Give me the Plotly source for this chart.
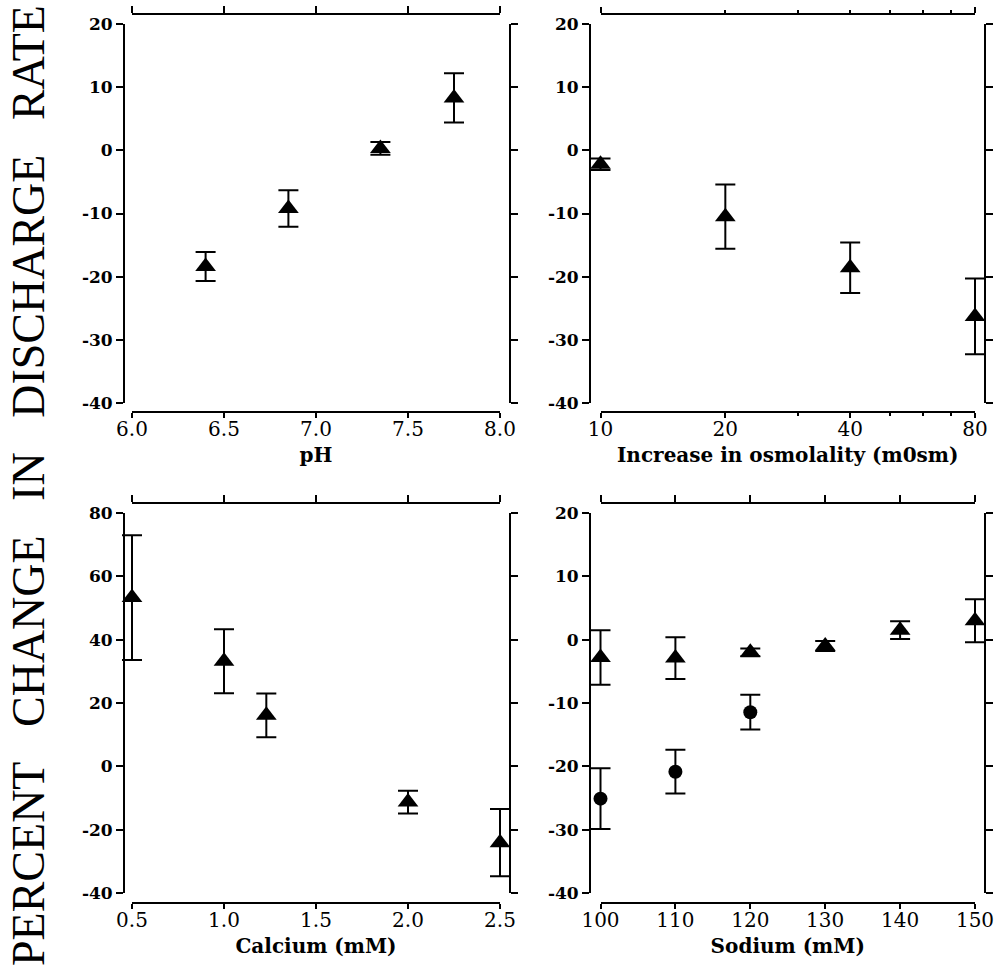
import plotly.graph_objects as go
import math

# ---------------- data ----------------
# Panel A: pH
ph_x = [6.4, 6.85, 7.35, 7.75]
ph_y = [-18.4, -9.2, 0.3, 8.3]
ph_err = [2.3, 2.9, 1.0, 3.9]

# Panel B: increase in osmolality (mOsm), log axis
osm_x = [10, 20, 40, 80]
osm_y = [-2.2, -10.5, -18.6, -26.3]
osm_err = [0.9, 5.1, 4.0, 6.0]

# Panel C: calcium (mM)
ca_x = [0.5, 1.0, 1.23, 2.0, 2.5]
ca_y = [53.3, 33.2, 16.1, -11.3, -24.1]
ca_err = [19.7, 10.1, 6.9, 3.6, 10.6]

# Panel D: sodium (mM)
na_tri_x = [100, 110, 120, 130, 140, 150]
na_tri_y = [-2.8, -2.9, -2.0, -1.0, 1.5, 3.0]
na_tri_err = [4.3, 3.3, 0.6, 0.8, 1.4, 3.4]
na_circ_x = [100, 110, 120]
na_circ_y = [-25.1, -20.85, -11.45]
na_circ_err = [4.8, 3.45, 2.75]

# tick labels
ph_ticks = [6.0, 6.5, 7.0, 7.5, 8.0]
ph_ticktext = ["6.0", "6.5", "7.0", "7.5", "8.0"]
osm_major = [10, 20, 40, 80]
osm_major_text = ["10", "20", "40", "80"]
osm_minor = [30, 50, 60, 70]
osm_top_minor = [20, 30, 40, 50, 60, 70]
ca_ticks = [0.5, 1.0, 1.5, 2.0, 2.5]
ca_ticktext = ["0.5", "1.0", "1.5", "2.0", "2.5"]
na_ticks = [100, 110, 120, 130, 140, 150]
na_ticktext = ["100", "110", "120", "130", "140", "150"]
y_small_ticks = [20, 10, 0, -10, -20, -30, -40]
y_small_text = ["20", "10", "0", "-10", "-20", "-30", "-40"]
y_big_ticks = [80, 60, 40, 20, 0, -20, -40]
y_big_text = ["80", "60", "40", "20", "0", "-20", "-40"]

x_titles = ["pH", "Increase in osmolality (m0sm)", "Calcium (mM)", "Sodium (mM)"]
y_title = "PERCENT CHANGE IN DISCHARGE RATE"

# ---------------- layout geometry (page pixels) ----------------
W, H = 995, 968


def fx(px):
    return px / W


def fy(py):
    return 1 - py / H


# column: (domain start, domain end, left spine, right spine)
cols = [(132, 500, 124, 509.5), (600.5, 975, 590, 984.5)]
# row: (domain top, domain bottom, top spine, bottom spine)
rows = [(24, 403, 14, 412), (513, 893, 502.5, 902.5)]
PAD = 16  # extra (hidden) room so error bars/markers are not clipped

FONT_TICK_X = dict(family="DejaVu Serif", size=20, color="black")
FONT_TICK_Y = dict(family="DejaVu Serif", size=17, color="black", weight="bold")
FONT_TITLE = dict(family="DejaVu Serif", size=20, color="black", weight="bold")

axis_common = dict(
    showline=True, linewidth=2, linecolor="black",
    ticks="outside", ticklen=7, tickwidth=2, tickcolor="black",
    showgrid=False, zeroline=False, fixedrange=True, automargin=False,
)

panels = [
    dict(xtype="linear", xrange=[6.0, 8.0], xt=ph_ticks, xtt=ph_ticktext,
         yrange=[-40, 20], yt=y_small_ticks, ytt=y_small_text),
    dict(xtype="log", xrange=[1.0, math.log10(80)], xt=osm_major, xtt=osm_major_text,
         yrange=[-40, 20], yt=y_small_ticks, ytt=y_small_text),
    dict(xtype="linear", xrange=[0.5, 2.5], xt=ca_ticks, xtt=ca_ticktext,
         yrange=[-40, 80], yt=y_big_ticks, ytt=y_big_text),
    dict(xtype="linear", xrange=[100, 150], xt=na_ticks, xtt=na_ticktext,
         yrange=[-40, 20], yt=y_small_ticks, ytt=y_small_text),
]

fig = go.Figure()
layout = {}


def ax_id(n, letter):
    return letter if n == 1 else f"{letter}{n}"


def ax_key(n, letter):
    return f"{letter}axis" if n == 1 else f"{letter}axis{n}"


for i, p in enumerate(panels):
    r, c = divmod(i, 2)
    x0, x1, lsp, rsp = cols[c]
    y0, y1, tsp, bsp = rows[r]
    n, m, d = i + 1, i + 5, i + 9

    # visible bottom axis
    xa = dict(axis_common, type=p["xtype"], domain=[fx(x0), fx(x1)], anchor="free",
              position=fy(bsp), range=p["xrange"], tickmode="array", ticklen=5,
              tickvals=p["xt"], ticktext=p["xtt"], tickfont=FONT_TICK_X,
              ticklabelstandoff=-6,
              title=dict(text=x_titles[i], font=FONT_TITLE, standoff=7))
    if p["xtype"] == "log":
        xa["minor"] = dict(tickvals=osm_minor, ticks="outside", ticklen=3,
                           tickwidth=1.5, tickcolor="black", showgrid=False)
    layout[ax_key(n, "x")] = xa
    # visible left axis
    layout[ax_key(n, "y")] = dict(axis_common, domain=[fy(y1), fy(y0)], anchor="free",
                                  position=fx(lsp), range=p["yrange"], tickmode="array",
                                  tickvals=p["yt"], ticktext=p["ytt"], tickfont=FONT_TICK_Y)

    # top (mirror) axis
    xt = dict(axis_common, type=p["xtype"], domain=[fx(x0), fx(x1)],
              overlaying=ax_id(n, "x"), side="top", anchor="free", position=fy(tsp),
              range=p["xrange"], tickmode="array", showticklabels=False)
    if p["xtype"] == "log":
        xt["tickvals"] = [osm_major[0], osm_major[-1]]
        xt["ticklen"] = 6
        xt["minor"] = dict(tickvals=osm_top_minor, ticks="outside", ticklen=3,
                           tickwidth=1.5, tickcolor="black", showgrid=False)
    else:
        xt["tickvals"] = p["xt"]
    layout[ax_key(m, "x")] = xt
    # right (mirror) axis
    layout[ax_key(m, "y")] = dict(axis_common, domain=[fy(y1), fy(y0)],
                                  overlaying=ax_id(n, "y"), side="right", anchor="free",
                                  position=fx(rsp), range=p["yrange"], tickmode="array",
                                  tickvals=p["yt"], showticklabels=False)

    # hidden data axes: same scale, slightly larger area (no clipping of caps)
    xr0, xr1 = p["xrange"]
    sx = (xr1 - xr0) / (x1 - x0)
    yr0, yr1 = p["yrange"]
    sy = (yr1 - yr0) / (y1 - y0)
    layout[ax_key(d, "x")] = dict(visible=False, type=p["xtype"], anchor=ax_id(d, "y"),
                                  domain=[fx(x0 - PAD), fx(x1 + PAD)],
                                  range=[xr0 - PAD * sx, xr1 + PAD * sx], fixedrange=True)
    layout[ax_key(d, "y")] = dict(visible=False, anchor=ax_id(d, "x"),
                                  domain=[fy(y1 + PAD), fy(y0 - PAD)],
                                  range=[yr0 - PAD * sy, yr1 + PAD * sy], fixedrange=True)


def add_series(xs, ys, errs, n, symbol, size):
    d = n + 8
    fig.add_trace(go.Scatter(
        x=xs, y=ys, mode="markers",
        xaxis=ax_id(d, "x"), yaxis=ax_id(d, "y"),
        marker=dict(symbol=symbol, size=size, color="black", line=dict(width=0)),
        error_y=dict(type="data", array=errs, visible=True, color="black",
                     thickness=2, width=10),
        cliponaxis=False, showlegend=False, hoverinfo="x+y",
    ))


add_series(ph_x, ph_y, ph_err, 1, "triangle-up", 18)
add_series(osm_x, osm_y, osm_err, 2, "triangle-up", 18)
add_series(ca_x, ca_y, ca_err, 3, "triangle-up", 18)
add_series(na_tri_x, na_tri_y, na_tri_err, 4, "triangle-up", 18)
add_series(na_circ_x, na_circ_y, na_circ_err, 4, "circle", 14)

# invisible anchor traces so the frame axes (bottom/left and top/right) are drawn
for i, (xs, ys) in enumerate([(ph_x, ph_y), (osm_x, osm_y), (ca_x, ca_y), (na_tri_x, na_tri_y)]):
    for k in (i + 1, i + 5):
        fig.add_trace(go.Scatter(x=xs[:1], y=ys[:1], mode="markers",
                                 xaxis=ax_id(k, "x"), yaxis=ax_id(k, "y"),
                                 marker=dict(opacity=0, size=1), hoverinfo="skip",
                                 showlegend=False))

gap = "\u00a0\u00a0\u00a0"
fig.add_annotation(
    text=gap.join(y_title.split(" ")), textangle=-90,
    xref="paper", yref="paper", x=fx(28), y=fy(486),
    xanchor="center", yanchor="middle", showarrow=False,
    font=dict(family="Liberation Serif", size=46, color="black"),
)

fig.update_layout(
    template="none",
    width=W, height=H, margin=dict(l=0, r=0, t=0, b=0, pad=0),
    paper_bgcolor="white", plot_bgcolor="rgba(0,0,0,0)",
    showlegend=False, **layout,
)

fig.write_html(
    "out.html",
    config={"displayModeBar": False},
    post_script="document.body.style.margin='0';document.body.style.overflow='hidden';",
)
